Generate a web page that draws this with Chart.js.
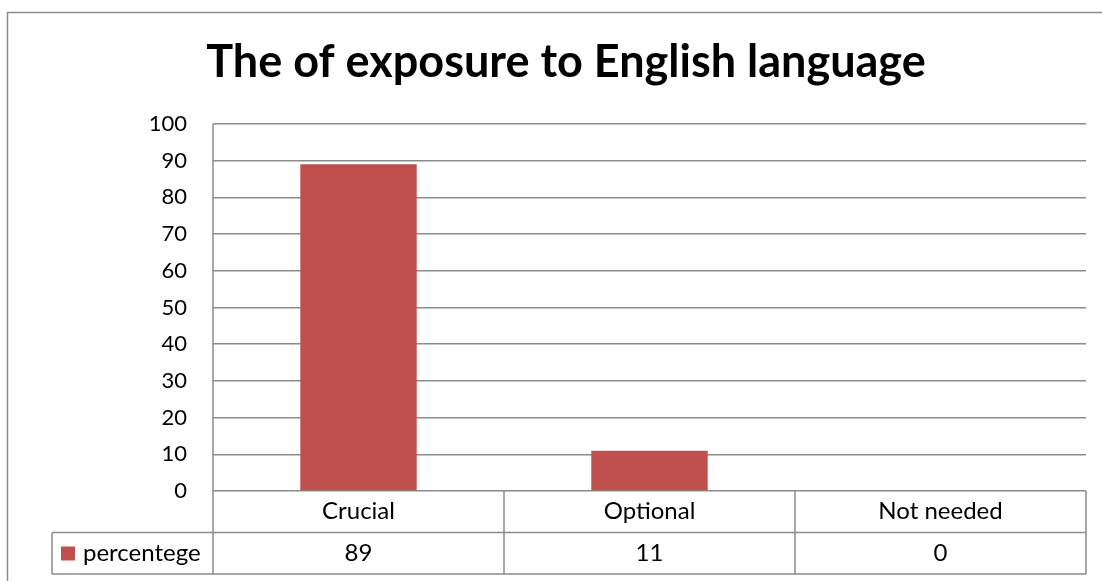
<!DOCTYPE html>
<html>
<head>
<meta charset="utf-8">
<script src="https://cdn.jsdelivr.net/npm/chart.js@4"></script>
<style>
  html, body { margin: 0; padding: 0; background: #fff; }
  canvas { display: block; }
</style>
</head>
<body>
<canvas id="chart" width="1102" height="581"></canvas>
<script>
const chartTitle = 'The of exposure to English language';
const categories = ['Crucial', 'Optional', 'Not needed'];
const seriesName = 'percentege';
const percentValues = [89, 11, 0];

const barColor = '#C0504D';
const lineColor = '#8C8C8C';
const fontFamily = 'Lato, "Open Sans", sans-serif';

// frame around the whole chart plus the data table under the plot
const dataTable = {
  id: 'dataTable',
  afterDraw(chart) {
    const { ctx, chartArea, scales } = chart;
    const x = scales.x;
    const step = (chartArea.right - chartArea.left) / categories.length;
    const rowH = 41.5;
    const top = chartArea.bottom;
    const mid = top + rowH;
    const bottom = mid + rowH;
    const keyLeft = 52;

    ctx.save();
    ctx.strokeStyle = lineColor;
    ctx.lineWidth = 1.5;

    // outer frame
    ctx.strokeRect(7.5, 12.5, 1110, 600);

    ctx.beginPath();
    // y axis runs down through the table
    ctx.moveTo(chartArea.left, chartArea.top);
    ctx.lineTo(chartArea.left, bottom);
    ctx.moveTo(keyLeft, mid);
    ctx.lineTo(chartArea.right, mid);
    ctx.moveTo(keyLeft, bottom);
    ctx.lineTo(chartArea.right, bottom);
    ctx.moveTo(keyLeft, mid);
    ctx.lineTo(keyLeft, bottom);
    for (let i = 1; i <= categories.length; i++) {
      const bx = chartArea.left + step * i;
      ctx.moveTo(bx, top);
      ctx.lineTo(bx, bottom);
    }
    ctx.stroke();

    ctx.fillStyle = '#000';
    ctx.font = '24px ' + fontFamily;
    ctx.textAlign = 'center';
    ctx.textBaseline = 'middle';
    categories.forEach((c, i) => {
      const cx = x.getPixelForValue(i);
      ctx.fillText(c, cx, top + rowH / 2);
      ctx.fillText(String(percentValues[i]), cx, mid + rowH / 2);
    });

    // legend key in the series row
    ctx.fillStyle = barColor;
    ctx.fillRect(61, mid + 14, 14, 14);
    ctx.fillStyle = '#000';
    ctx.textAlign = 'left';
    ctx.fillText(seriesName, 83, mid + rowH / 2);
    ctx.restore();
  }
};

new Chart(document.getElementById('chart'), {
  type: 'bar',
  data: {
    labels: categories,
    datasets: [{
      label: seriesName,
      data: percentValues,
      backgroundColor: barColor,
      borderWidth: 0,
      categoryPercentage: 1,
      barPercentage: 0.4
    }]
  },
  options: {
    responsive: false,
    devicePixelRatio: 1,
    animation: false,
    layout: { padding: { left: 46, right: 16, top: 0, bottom: 90 } },
    plugins: {
      legend: { display: false },
      tooltip: { enabled: false },
      title: {
        display: true,
        text: chartTitle,
        color: '#000',
        font: { family: fontFamily, size: 45, weight: 'bold', lineHeight: 1.2 },
        padding: { top: 35, bottom: 35 }
      }
    },
    scales: {
      x: { display: false },
      y: {
        min: 0,
        max: 100,
        afterFit(scale) { scale.width = 167; },
        border: { display: false },
        grid: { color: lineColor, lineWidth: 1.5, drawTicks: false },
        ticks: {
          stepSize: 10,
          padding: 26,
          color: '#000',
          font: { family: fontFamily, size: 22 }
        }
      }
    }
  },
  plugins: [dataTable]
});
</script>
</body>
</html>
